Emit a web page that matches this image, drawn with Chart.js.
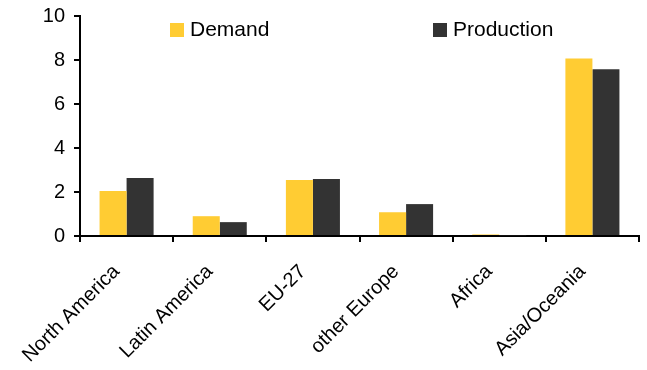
<!DOCTYPE html>
<html>
<head>
<meta charset="utf-8">
<script src="https://cdn.jsdelivr.net/npm/chart.js@4"></script>
<style>
  html, body { margin: 0; padding: 0; background: #fff; }
  .chart { width: 647px; height: 370px; }
</style>
</head>
<body>
<div class="chart"><canvas id="chart"></canvas></div>
<script>
const regions = ['North America', 'Latin America', 'EU-27', 'other Europe', 'Africa', 'Asia/Oceania'];
const demand = [2.05, 0.9, 2.55, 1.08, 0.07, 8.07];
const production = [2.64, 0.63, 2.59, 1.45, 0.03, 7.58];
const yTicks = [0, 2, 4, 6, 8, 10];

const FONT = 'Liberation Sans, Arial, sans-serif';

// legend sits inside the plot, two items spread apart
const legendPlugin = {
  id: 'insideLegend',
  afterDraw(chart) {
    const ctx = chart.ctx;
    const items = [
      { x: 170, ds: chart.data.datasets[0] },
      { x: 433, ds: chart.data.datasets[1] },
    ];
    ctx.save();
    ctx.font = '21px ' + FONT;
    ctx.textBaseline = 'middle';
    items.forEach(it => {
      ctx.fillStyle = it.ds.backgroundColor;
      ctx.fillRect(it.x, 23, 14, 14);
      ctx.fillStyle = '#000';
      ctx.fillText(it.ds.label, it.x + 20, 30);
    });
    ctx.restore();
  }
};

new Chart(document.getElementById('chart'), {
  type: 'bar',
  data: {
    labels: regions,
    datasets: [
      { label: 'Demand', data: demand, backgroundColor: '#FFCC33' },
      { label: 'Production', data: production, backgroundColor: '#333333' },
    ],
  },
  options: {
    responsive: true,
    maintainAspectRatio: false,
    animation: false,
    categoryPercentage: 0.58,
    barPercentage: 1,
    layout: { padding: { top: 16, right: 8, left: 0, bottom: 0 } },
    plugins: {
      legend: { display: false },
      tooltip: { enabled: false },
    },
    scales: {
      x: {
        grid: { display: true, drawOnChartArea: false, drawTicks: true, tickLength: 6, color: '#000', lineWidth: 2, offset: true },
        border: { display: true, color: '#000', width: 2 },
        ticks: {
          color: '#000',
          font: { family: FONT, size: 20 },
          minRotation: 45,
          maxRotation: 45,
          autoSkip: false,
          padding: 18,
          labelOffset: -10,
        },
        afterFit(scale) {
          scale.height = 134;
          scale.paddingLeft = 0;
          scale.paddingRight = 0;
        },
      },
      y: {
        min: 0,
        max: 10,
        afterBuildTicks(scale) { scale.ticks = yTicks.map(v => ({ value: v })); },
        grid: { display: true, drawOnChartArea: false, drawTicks: true, tickLength: 6, color: '#000', lineWidth: 2 },
        border: { display: true, color: '#000', width: 2 },
        ticks: {
          color: '#000',
          font: { family: FONT, size: 20 },
          padding: 9,
        },
        afterFit(scale) {
          scale.width = 80;
          scale.paddingTop = 0;
          scale.paddingBottom = 0;
        },
      },
    },
  },
  plugins: [legendPlugin],
});
</script>
</body>
</html>
